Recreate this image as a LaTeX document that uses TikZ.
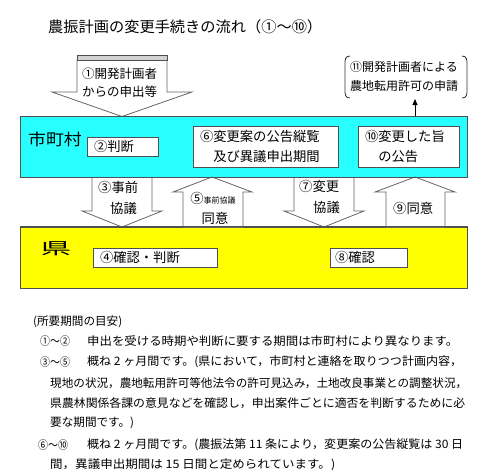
\documentclass[tikz,border=0pt]{standalone}
\usepackage{fontspec}
\usepackage{graphicx}
\setmainfont{Noto Sans CJK JP}
\usetikzlibrary{arrows.meta}
\definecolor{cyanfill}{RGB}{40,255,255}
\definecolor{yelfill}{RGB}{255,255,0}
\definecolor{edgecol}{RGB}{80,80,80}
\definecolor{arrcol}{RGB}{100,100,100}
\newcommand{\myfs}[1]{\fontsize{#1pt}{#1pt}\selectfont}
\newcommand{\fsb}[2]{\fontsize{#1pt}{#2pt}\selectfont}
\newcommand{\fitw}[2]{\resizebox{#1}{\height}{#2}}
\tikzset{
  panel/.style={draw=edgecol, line width=1pt, minimum width=447pt, minimum height=61pt, inner sep=0pt},
  inbox/.style={draw=edgecol, fill=white, line width=0.8pt, inner xsep=7pt, inner ysep=0pt, align=left, font=\fsb{13.3}{20}},
  blockarrow/.style={draw=arrcol, fill=white, line width=0.8pt, line join=miter},
  atxt/.style={inner sep=0pt, font=\myfs{13.3}},
  body/.style={inner sep=0pt, anchor=west, font=\myfs{11.6}},
}
\begin{document}
\begin{tikzpicture}[x=1pt,y=-1pt]
\useasboundingbox (0,0) rectangle (480,471);
% title
\node[inner sep=0pt, anchor=west, font=\myfs{15}] (title) at (48,27) {\fitw{274pt}{農振計画の変更手続きの流れ（①～⑩）}};

% top arrow 1
\draw[blockarrow] (77,60) -- (77,92) -- (52,92) -- (122,116.5) -- (192,92) -- (167,92) -- (167,60) -- cycle;
\draw[draw=edgecol, fill=gray!35, line width=0.8pt] (77,55) rectangle (167,60);
\node[atxt, anchor=west, font=\myfs{12.5}] (t1a) at (82,74) {①開発計画者};
\node[atxt, anchor=west, font=\myfs{12.5}] (t1b) at (82,92) {からの申出等};

% note 11
\node[inner sep=0pt, align=center, font=\fsb{12}{19}] (note) at (404,76.5) {⑪開発計画者による\\農地転用許可の申請};
\draw[draw=black!80, line width=0.8pt] (350,56) .. controls (345,56) and (345,60) .. (345,64) -- (345,90) .. controls (345,94) and (345,98) .. (350,98);
\draw[draw=black!80, line width=0.8pt] (462,56) .. controls (467,56) and (467,60) .. (467,64) -- (467,90) .. controls (467,94) and (467,98) .. (462,98);

% panels
\node[panel, fill=cyanfill] (mura) at (243.5,146.5) {};
\node[panel, fill=yelfill] (ken) at (243.5,257.5) {};

\coordinate (a11) at (415,99);
\draw[line width=0.9pt, -{Triangle[length=6pt,width=5pt]}] (mura.north -| a11) -- (a11);

\node[inner sep=0pt, font=\myfs{16}] (muralab) at (55,139) {\scalebox{1.12}[1]{市町村}};
\node[inner sep=0pt, font=\myfs{17}] (kenlab) at (56,249) {\scalebox{1.8}[0.95]{県}};

% inner boxes
\node[inbox, minimum width=71pt, minimum height=19pt, text width=57pt] (b2) at (122.5,146.5) {②判断};
\node[inbox, minimum width=145pt, minimum height=41pt, text width=131pt] (b6) at (265.5,146.5) {⑥変更案の公告縦覧\\　及び異議申出期間};
\node[inbox, minimum width=101pt, minimum height=41pt, text width=87pt] (b10) at (408.5,146.5) {⑩変更した旨\\　の公告};
\node[inbox, minimum width=124pt, minimum height=19pt, text width=110pt] (b4) at (155,257.5) {④確認・判断};
\node[inbox, minimum width=77pt, minimum height=19pt, text width=67pt, inner xsep=5pt] (b8) at (368.5,257.5) {⑧確認};

% block arrows between panels
\draw[blockarrow] (92,177) -- (92,211) -- (82,211) -- (122,227) -- (162,211) -- (152,211) -- (152,177);
\draw[blockarrow] (183,227) -- (183,192) -- (173,192) -- (212,177) -- (252,192) -- (243,192) -- (243,227);
\draw[blockarrow] (294,177) -- (294,211) -- (284,211) -- (324,227) -- (364,211) -- (354,211) -- (354,177);
\draw[blockarrow] (386,227) -- (386,192) -- (375,192) -- (415,177) -- (455,192) -- (445,192) -- (445,227);
\draw[draw=edgecol, line width=1pt] (ken.north west) -- (ken.north east);
\draw[draw=edgecol, line width=1pt] (mura.south west) -- (mura.south east);

% arrow texts
\node[atxt, anchor=west] (t3a) at (98,187) {③事前};
\node[atxt, anchor=west] (t3b) at (110,208) {協議};
\node[atxt] (t5a) at (213,198) {⑤{\myfs{8}事前協議}};
\node[atxt] (t5b) at (215,218) {同意};
\node[atxt, anchor=west] (t7a) at (299,186) {⑦変更};
\node[atxt, anchor=west] (t7b) at (313,207) {協議};
\node[atxt, anchor=west] (t9) at (393,208) {⑨同意};

% body text
\node[body] (l0) at (33,322) {(所要期間の目安)};
\node[body] (l1a) at (40,341) {\fitw{30pt}{①～②}};
\node[body] (l1b) at (87,341) {\fitw{371pt}{申出を受ける時期や判断に要する期間は市町村により異なります。}};
\node[body] (l2a) at (40,362) {\fitw{30pt}{③～⑤}};
\node[body] (l2b) at (87,362) {\fitw{375pt}{概ね 2 ヶ月間です。(県において，市町村と連絡を取りつつ計画内容，}};
\node[body] (l3) at (50,383) {\fitw{417pt}{現地の状況，農地転用許可等他法令の許可見込み，土地改良事業との調整状況，}};
\node[body] (l4) at (50,403) {\fitw{415pt}{県農林関係各課の意見などを確認し，申出案件ごとに適否を判断するために必}};
\node[body] (l5) at (50,423) {要な期間です。)};
\node[body] (l6a) at (38,445) {\fitw{30pt}{⑥～⑩}};
\node[body] (l6b) at (87,445) {\fitw{376pt}{概ね 2 ヶ月間です。(農振法第 11 条により，変更案の公告縦覧は 30 日}};
\node[body] (l7) at (50,465) {\fitw{285pt}{間，異議申出期間は 15 日間と定められています。)}};
\end{tikzpicture}
\end{document}
